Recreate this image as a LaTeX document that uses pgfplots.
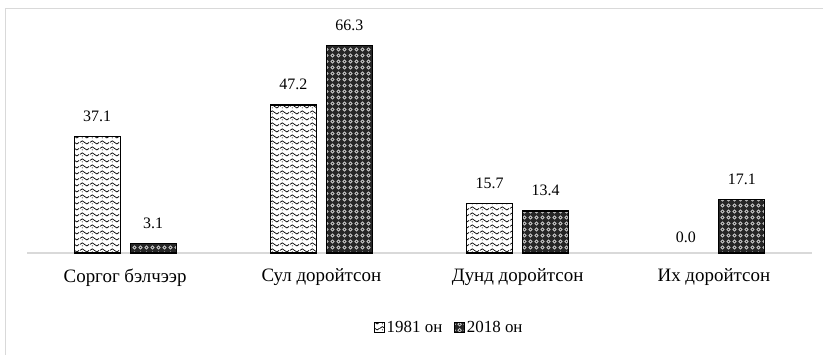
\documentclass[border=0pt]{standalone}
\usepackage{fontspec}
\setmainfont{Liberation Serif}
\usepackage{pgfplots}
\pgfplotsset{compat=1.18}
\usetikzlibrary{patterns.meta}
\definecolor{framegray}{HTML}{D9D9D9}

\tikzdeclarepattern{
  name=wavy,
  type=uncolored,
  bounding box={(0bp,0bp) and (10bp,6bp)},
  tile size={(10bp,6bp)},
  code={
    \draw[line width=0.8bp] (0bp,3bp) sin (2.5bp,4.8bp) cos (5bp,3bp) sin (7.5bp,1.2bp) cos (10bp,3bp);
    \fill (2.5bp,1.3bp) circle (0.6bp);
  }
}
\tikzdeclarepattern{
  name=circs,
  type=uncolored,
  bounding box={(0bp,0bp) and (5.5bp,5.5bp)},
  tile size={(5.5bp,5.5bp)},
  code={
    \draw[line width=0.7bp] (2.75bp,2.75bp) circle (1.8bp);
  }
}

\begin{document}
\begin{tikzpicture}
\useasboundingbox (0bp,0bp) rectangle (823bp,355bp);
\fill[white] (0bp,0bp) rectangle (823bp,355bp);
\draw[framegray, line width=1.3bp] (5.5bp,-20bp) -- (5.5bp,346.5bp) -- (840bp,346.5bp);
\begin{axis}[
  scale only axis,
  width=785bp, height=232bp,
  at={(27bp,102bp)}, anchor=south west,
  ybar, bar width=46bp,
  xmin=-0.5, xmax=3.5, ymin=0, ymax=74,
  axis y line=none,
  axis x line*=bottom,
  x axis line style={framegray, line width=1.3bp, -},
  xtick={0,1,2,3},
  xticklabels={Соргог бэлчээр, Сул доройтсон, Дунд доройтсон, Их доройтсон},
  major tick length=0pt,
  xticklabel style={font=\fontsize{19}{21}\selectfont, yshift=-12bp},
  nodes near coords,
  nodes near coords style={font=\fontsize{16}{18}\selectfont, text=black, yshift=11bp,
     /pgf/number format/.cd, fixed, fixed zerofill, precision=1, assume math mode=true, /tikz/.cd},
  legend style={at={(0.538,-0.322)}, anchor=center, draw=none, fill=none,
     legend columns=2, font=\fontsize{17}{19}\selectfont,
     /tikz/every even column/.append style={column sep=10bp},
     inner sep=0pt},
  legend image code/.code={\draw[#1, line width=0.6bp] (0bp,-5bp) rectangle (10bp,5bp);},
  clip=false,
]
\addplot[bar shift=-28bp, draw=black, line width=1.1bp, fill=white, postaction={pattern=wavy, pattern color=black}]
  coordinates {(0,37.1) (1,47.2) (2,15.7)};
\addplot[bar shift=28bp, draw=black, line width=1.1bp, fill=black!85, postaction={pattern=circs, pattern color=white!85!black}]
  coordinates {(0,3.1) (1,66.3) (2,13.4) (3,17.1)};
\addplot[forget plot, bar shift=-28bp, draw=none, fill=none, nodes near coords style={/tikz/yshift=-4bp}]
  coordinates {(3,0.0)};
\legend{1981 он, 2018 он}
\end{axis}
\end{tikzpicture}
\end{document}
